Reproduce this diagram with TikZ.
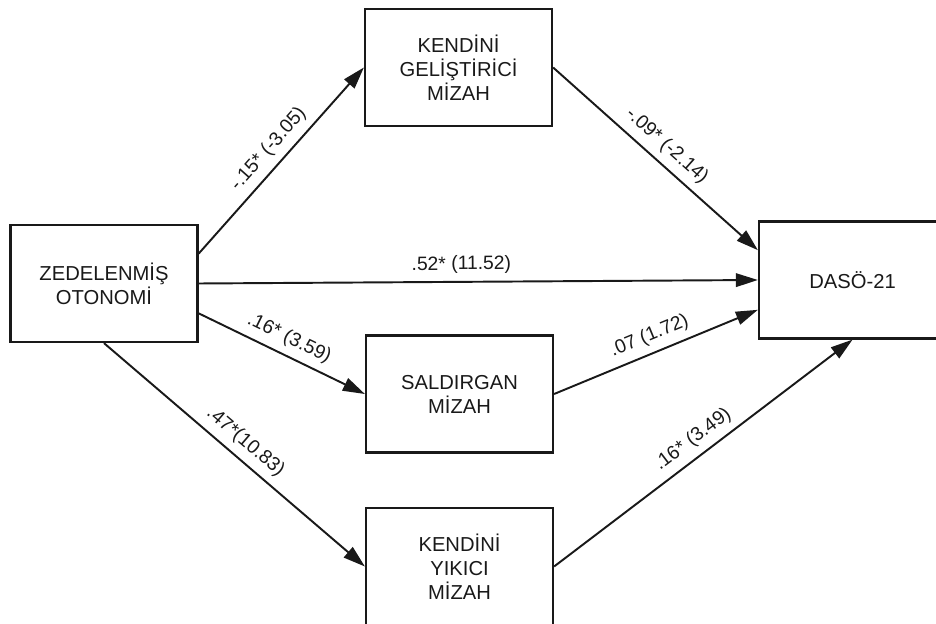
\documentclass[tikz,border=0pt]{standalone}
\usepackage{fontspec}
\setmainfont{Liberation Sans}
\usetikzlibrary{arrows.meta,calc}
\definecolor{ink}{RGB}{25,25,25}

\tikzset{
  varbox/.style={draw=ink,line width=1.3pt,minimum width=3.74cm,minimum height=2.34cm,
    align=center,text=ink,font=\fontsize{11.5}{13.6}\selectfont},
  link/.style={draw=ink,line width=1.1pt,-{Triangle[length=4.4mm,width=2.7mm]}},
  coef/.style={sloped,above,inner sep=4pt,text=ink,font=\fontsize{11}{13}\selectfont}
}

\begin{document}
\begin{tikzpicture}[x=0.02cm,y=-0.02cm]
\useasboundingbox (0,0) rectangle (936,624);

% variables
\node[varbox] (zo) at (104,283.5) {ZEDELENMİŞ\\OTONOMİ};
\node[varbox] (kg) at (458.5,67.5) {KENDİNİ\\GELİŞTİRİCİ\\MİZAH};
\node[varbox] (sm) at (459.5,394) {SALDIRGAN\\MİZAH};
\node[varbox] (ky) at (459.5,566.5) {KENDİNİ\\YIKICI\\MİZAH};
\node[varbox] (daso) at (852.5,280) {DASÖ-21};

% ports on the box edges
\coordinate (zo-up) at ($(zo.north east)!.5!(zo.east)$);
\coordinate (zo-dn) at ($(zo.south east)!.5!(zo.east)$);
\coordinate (daso-up) at ($(daso.north west)!.5!(daso.west)$);
\coordinate (daso-dn) at ($(daso.south west)!.5!(daso.west)$);

% paths
\draw[link] (zo-up) -- node[coef]{-.15* (-3.05)} (kg.west);
\draw[link] (zo.east) -- node[coef,pos=.47]{.52* (11.52)} (daso.west);
\draw[link] (zo-dn) -- node[coef]{.16* (3.59)} (sm.west);
\draw[link] (zo.south) -- node[coef]{.47*(10.83)} (ky.west);
\draw[link] (kg.east) -- node[coef]{-.09* (-2.14)} (daso-up);
\draw[link] (sm.east) -- node[coef]{.07 (1.72)} (daso-dn);
\draw[link] (ky.east) -- node[coef]{.16* (3.49)} (daso.south);
\end{tikzpicture}
\end{document}
